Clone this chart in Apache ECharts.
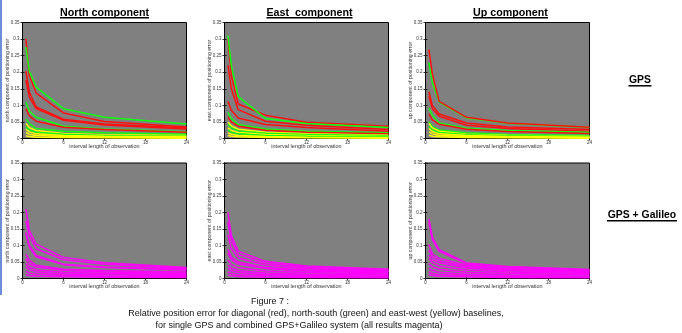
<!DOCTYPE html>
<html><head><meta charset="utf-8">
<script src="https://cdn.jsdelivr.net/npm/echarts@6/dist/echarts.min.js"></script>
<style>html,body{margin:0;padding:0;background:#fff}#c{width:682px;height:333px}</style>
</head><body><div id="c"></div>
<script>
// x positions of observation interval (hours)
const xs = [0.5, 1, 2, 6, 12, 24];
const xTicks = [0, 6, 12, 18, 24];
const yMax = 0.35, yStep = 0.05;

const titles = ["North component", "East  component", "Up component"];
const rowLabels = ["GPS", "GPS + Galileo"];
const yNames = ["north component of positioning error", "east component of positioning error", "up component of positioning error"];
const xName = "interval length of observation";
const caption = ["Figure 7 :",
  "Relative position error for diagonal (red), north-south (green) and east-west (yellow) baselines,",
  "for single GPS and combined GPS+Galileo system (all results magenta)"];

// GPS only (r = diagonal, g = north-south, y = east-west)
const northGpsColors = ["r","g","r","r","g","r","g","y","g","y","y","y"];
const northGps = [
  [0.301,0.190,0.137,0.077,0.051,0.035],
  [0.276,0.203,0.155,0.090,0.064,0.044],
  [0.203,0.140,0.095,0.058,0.044,0.032],
  [0.176,0.125,0.090,0.055,0.041,0.029],
  [0.110,0.082,0.064,0.037,0.029,0.020],
  [0.090,0.068,0.052,0.034,0.027,0.019],
  [0.060,0.045,0.030,0.022,0.017,0.013],
  [0.045,0.033,0.024,0.015,0.011,0.009],
  [0.035,0.026,0.019,0.013,0.009,0.007],
  [0.028,0.020,0.014,0.009,0.007,0.005],
  [0.018,0.013,0.009,0.006,0.004,0.003],
  [0.008,0.006,0.004,0.003,0.002,0.001]
];
const eastGpsColors = ["r","g","r","r","g","r","y","g","y","g","y","y"];
const eastGps = [
  [0.302,0.190,0.104,0.070,0.049,0.037],
  [0.311,0.220,0.127,0.060,0.045,0.033],
  [0.221,0.150,0.087,0.052,0.040,0.027],
  [0.112,0.085,0.062,0.042,0.033,0.022],
  [0.079,0.060,0.042,0.029,0.022,0.017],
  [0.064,0.050,0.037,0.025,0.019,0.014],
  [0.050,0.038,0.028,0.019,0.014,0.010],
  [0.042,0.032,0.023,0.016,0.012,0.008],
  [0.032,0.024,0.018,0.012,0.009,0.006],
  [0.025,0.019,0.014,0.009,0.007,0.005],
  [0.017,0.013,0.009,0.006,0.004,0.003],
  [0.009,0.007,0.005,0.003,0.002,0.001]
];
const upGpsColors = ["g","r","r","r","g","r","g","y","g","y","y","y"];
const upGps = [
  [0.228,0.170,0.110,0.062,0.046,0.033],
  [0.268,0.195,0.112,0.064,0.047,0.034],
  [0.141,0.100,0.074,0.047,0.035,0.027],
  [0.128,0.090,0.067,0.040,0.030,0.022],
  [0.092,0.070,0.047,0.031,0.024,0.0185],
  [0.074,0.056,0.043,0.028,0.021,0.015],
  [0.050,0.036,0.026,0.017,0.012,0.009],
  [0.045,0.032,0.022,0.013,0.010,0.007],
  [0.036,0.026,0.018,0.011,0.008,0.006],
  [0.030,0.021,0.014,0.009,0.006,0.004],
  [0.020,0.014,0.009,0.006,0.004,0.003],
  [0.010,0.007,0.005,0.003,0.002,0.001]
];
// GPS + Galileo (all magenta)
const northGal = [
  [0.211,0.145,0.104,0.064,0.048,0.033],
  [0.175,0.130,0.090,0.057,0.043,0.030],
  [0.140,0.100,0.070,0.043,0.035,0.028],
  [0.135,0.095,0.066,0.042,0.033,0.026],
  [0.074,0.055,0.040,0.028,0.024,0.020],
  [0.060,0.045,0.035,0.025,0.020,0.016],
  [0.045,0.035,0.026,0.019,0.015,0.012],
  [0.035,0.027,0.020,0.014,0.011,0.008],
  [0.022,0.017,0.013,0.009,0.007,0.005],
  [0.012,0.009,0.007,0.005,0.004,0.003]
];
const eastGal = [
  [0.200,0.130,0.083,0.052,0.038,0.028],
  [0.170,0.115,0.073,0.046,0.034,0.025],
  [0.133,0.090,0.062,0.040,0.030,0.022],
  [0.089,0.065,0.050,0.033,0.026,0.020],
  [0.077,0.057,0.044,0.030,0.023,0.017],
  [0.056,0.042,0.033,0.023,0.018,0.013],
  [0.041,0.031,0.024,0.017,0.013,0.010],
  [0.031,0.023,0.018,0.012,0.009,0.007],
  [0.020,0.015,0.011,0.008,0.006,0.004],
  [0.010,0.008,0.006,0.004,0.003,0.002]
];
const upGal = [
  [0.181,0.125,0.087,0.047,0.036,0.027],
  [0.170,0.118,0.082,0.045,0.035,0.026],
  [0.102,0.075,0.061,0.040,0.030,0.023],
  [0.085,0.066,0.054,0.036,0.027,0.021],
  [0.071,0.057,0.048,0.032,0.024,0.018],
  [0.061,0.048,0.038,0.026,0.020,0.015],
  [0.045,0.035,0.028,0.019,0.015,0.011],
  [0.031,0.024,0.019,0.013,0.010,0.007],
  [0.020,0.015,0.012,0.008,0.006,0.004],
  [0.012,0.009,0.007,0.005,0.003,0.002]
];

const colorMap = {r:"#ff1010", g:"#10ff10", y:"#ffff00", m:"#ff00ff"};
const FONT = '"Liberation Sans", Arial, sans-serif';

const cols = [22.5, 224.5, 425.5];
const rows = [{top:22.5, height:116}, {top:163, height:115.5}];
const W = 164;

const panels = [
  {r:0,c:0,lines:northGps,colors:northGpsColors},
  {r:0,c:1,lines:eastGps,colors:eastGpsColors},
  {r:0,c:2,lines:upGps,colors:upGpsColors},
  {r:1,c:0,lines:northGal,colors:null},
  {r:1,c:1,lines:eastGal,colors:null},
  {r:1,c:2,lines:upGal,colors:null}
];

const grid=[], xAxis=[], yAxis=[], series=[];
panels.forEach((p,i)=>{
  grid.push({left:cols[p.c], top:rows[p.r].top, width:W, height:rows[p.r].height,
    show:true, backgroundColor:"#808080", borderColor:"#000", borderWidth:1});
  const tick = {show:true, inside:true, length:2, lineStyle:{color:"#000", width:0.8}};
  xAxis.push({gridIndex:i, type:"value", min:0, max:24, interval:6, position:"bottom",
    axisLine:{show:true, lineStyle:{color:"#000", width:1}}, axisTick:tick,
    splitLine:{show:false},
    axisLabel:{fontSize:4.5, color:"#333", margin:2, fontFamily:FONT},
    name:xName, nameLocation:"middle", nameGap:5, nameMoveOverlap:false,
    nameTextStyle:{fontSize:5.5, color:"#333", fontFamily:FONT}});
  xAxis.push({gridIndex:i, type:"value", min:0, max:24, interval:6, position:"top",
    axisLine:{show:true, lineStyle:{color:"#000", width:1}}, axisTick:tick,
    splitLine:{show:false}, axisLabel:{show:false}});
  yAxis.push({gridIndex:i, type:"value", min:0, max:yMax, interval:yStep, position:"left",
    axisLine:{show:true, lineStyle:{color:"#000", width:1}}, axisTick:tick,
    splitLine:{show:false},
    axisLabel:{fontSize:4.5, color:"#333", margin:3, fontFamily:FONT},
    name:yNames[p.c], nameLocation:"middle", nameGap:12.5, nameMoveOverlap:false,
    nameTextStyle:{fontSize:5.2, color:"#333", fontFamily:FONT}});
  yAxis.push({gridIndex:i, type:"value", min:0, max:yMax, interval:yStep, position:"right",
    axisLine:{show:true, lineStyle:{color:"#000", width:1}}, axisTick:tick,
    splitLine:{show:false}, axisLabel:{show:false}});
  p.lines.forEach((vals,k)=>{
    const col = p.colors ? colorMap[p.colors[k]] : colorMap.m;
    series.push({type:"line", xAxisIndex:2*i, yAxisIndex:2*i, showSymbol:false, symbol:"none",
      silent:true, animation:false,
      lineStyle:{color:col, width:1.5}, data:xs.map((x,j)=>[x, vals[j]])});
  });
});

const graphic = [];
graphic.push({type:"rect", shape:{x:0,y:0,width:2,height:295}, style:{fill:"#6c8ed8"}});
const titleCenters = [104.5, 309.5, 510.5];
const titleHalf = [44.5, 43, 37.5];
titles.forEach((t,i)=>{
  graphic.push({type:"text", x:titleCenters[i], y:13.2, style:{text:t, font:"bold 10.7px "+FONT, fill:"#000", textAlign:"center", textVerticalAlign:"middle"}});
  graphic.push({type:"line", shape:{x1:titleCenters[i]-titleHalf[i], y1:17.8, x2:titleCenters[i]+titleHalf[i], y2:17.8}, style:{stroke:"#000", lineWidth:1.5}});
});
const rowY = [80.5, 215.5], rowCx = [640, 642], rowHalf = [11.5, 35];
rowLabels.forEach((t,i)=>{
  graphic.push({type:"text", x:rowCx[i], y:rowY[i], style:{text:t, font:"bold 10.4px "+FONT, fill:"#000", textAlign:"center", textVerticalAlign:"middle"}});
  graphic.push({type:"line", shape:{x1:rowCx[i]-rowHalf[i], y1:rowY[i]+5.3, x2:rowCx[i]+rowHalf[i], y2:rowY[i]+5.3}, style:{stroke:"#000", lineWidth:1.5}});
});
const capX = [270, 316, 299], capY = [302, 314, 326];
caption.forEach((t,i)=>{
  graphic.push({type:"text", x:capX[i], y:capY[i], style:{text:t, font:"9px "+FONT, fill:"#111", textAlign:"center", textVerticalAlign:"middle"}});
});

const chart = echarts.init(document.getElementById("c"), null, {renderer:"canvas"});
chart.setOption({animation:false, backgroundColor:"#fff", grid, xAxis, yAxis, series, graphic});
</script></body></html>
